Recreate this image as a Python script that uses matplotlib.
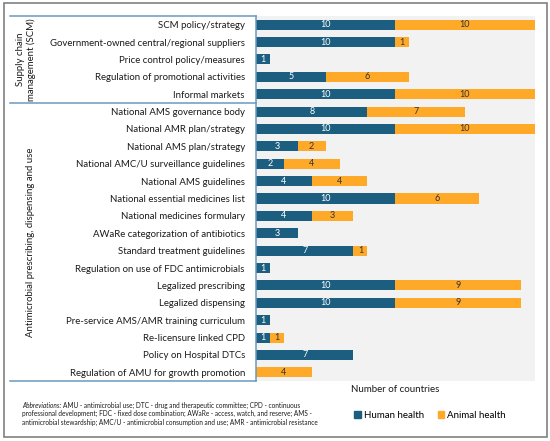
import matplotlib
matplotlib.use("Agg")
import matplotlib.pyplot as plt
from matplotlib.patches import Rectangle
from matplotlib.lines import Line2D
import numpy as np

categories = [
    "SCM policy/strategy",
    "Government-owned central/regional suppliers",
    "Price control policy/measures",
    "Regulation of promotional activities",
    "Informal markets",
    "National AMS governance body",
    "National AMR plan/strategy",
    "National AMS plan/strategy",
    "National AMC/U surveillance guidelines",
    "National AMS guidelines",
    "National essential medicines list",
    "National medicines formulary",
    "AWaRe categorization of antibiotics",
    "Standard treatment guidelines",
    "Regulation on use of FDC antimicrobials",
    "Legalized prescribing",
    "Legalized dispensing",
    "Pre-service AMS/AMR training curriculum",
    "Re-licensure linked CPD",
    "Policy on Hospital DTCs",
    "Regulation of AMU for growth promotion",
]
human = [10, 10, 1, 5, 10, 8, 10, 3, 2, 4, 10, 4, 3, 7, 1, 10, 10, 1, 1, 7, 0]
animal = [10, 1, 0, 6, 10, 7, 10, 2, 4, 4, 6, 3, 0, 1, 0, 9, 9, 0, 1, 0, 4]
series_names = ["Human health", "Animal health"]
groups = ["Supply chain\nmanagement (SCM)", "Antimicrobial prescribing, dispensing and use"]
group_sizes = [5, 16]
abbrev_head = "Abbreviations:"
abbrev_lines = [
    "AMU - antimicrobial use; DTC - drug and therapeutic committee; CPD - continuous",
    "professional development; FDC - fixed dose combination; AWaRe - access, watch, and reserve; AMS -",
    "antimicrobial stewardship; AMC/U - antimicrobial consumption and use; AMR - antimicrobial resistance",
]

BLUE = "#1b5e80"
ORANGE = "#ffa928"
BOX = "#6a98bf"
TXT = "#1a1a1a"

plt.rcParams["font.family"] = ["Lato", "DejaVu Sans"]

W, H = 550, 441
fig = plt.figure(figsize=(5.5, 4.41), dpi=100)

def fx(px):
    return px / W

def fy(py):
    return 1 - py / H

ax = fig.add_axes([fx(256), fy(381), fx(534.5) - fx(256), fy(16) - fy(381)])
ax.set_facecolor("#f2f2f2")

y = np.arange(len(categories))
h = np.array(human)
a = np.array(animal)
ax.barh(y, h, height=0.58, color=BLUE, zorder=2)
ax.barh(y, a, left=h, height=0.58, color=ORANGE, zorder=2)
for yi, hv, av in zip(y, h, a):
    if hv > 0:
        ax.text(hv / 2, yi, str(hv), ha="center", va="center", color="white", fontsize=6.5, zorder=3)
    if av > 0:
        ax.text(hv + av / 2, yi, str(av), ha="center", va="center", color="#333333", fontsize=6.5, zorder=3)

ax.set_xlim(0, 20)
ax.set_ylim(len(categories) - 0.5, -0.5)
ax.set_yticks(y)
ax.set_yticklabels(categories, fontsize=6.9, color=TXT)
ax.tick_params(axis="y", length=0, pad=8)
ax.set_xticks([])
for s in ax.spines.values():
    s.set_visible(False)

# group box lines
lw = 1.1
fig.add_artist(Line2D([fx(256), fx(256)], [fy(16), fy(381)], color=BOX, lw=lw))
edges = [16]
acc = 0
for gsz in group_sizes:
    acc += gsz
    edges.append(16 + acc * (365 / len(categories)))
for e in edges:
    fig.add_artist(Line2D([fx(10), fx(256)], [fy(e), fy(e)], color=BOX, lw=lw))

# group labels
fig.text(fx(26), fy((edges[0] + edges[1]) / 2), groups[0], rotation=90, ha="center", va="center",
         fontsize=6.9, linespacing=1.1, color=TXT)
fig.text(fx(31), fy((edges[1] + edges[2]) / 2), groups[1], rotation=90, ha="center", va="center",
         fontsize=6.9, color=TXT)

# x label
fig.text(fx(395), fy(390), "Number of countries", ha="center", va="center", fontsize=7, color=TXT)

# legend
fig.legend(handles=[Rectangle((0, 0), 1, 1, color=BLUE), Rectangle((0, 0), 1, 1, color=ORANGE)],
           labels=series_names, loc="center", bbox_to_anchor=(fx(430), fy(415)), ncol=2,
           frameon=False, fontsize=7, handlelength=0.7, handleheight=0.7, handletextpad=0.3,
           columnspacing=1.4)

# abbreviations
fs_ab = 4.7
line_y = [405, 413.5, 422]
head = fig.text(fx(22), fy(line_y[0]), abbrev_head, fontsize=fs_ab, style="italic",
                ha="left", va="center", color=TXT)
renderer = fig.canvas.get_renderer()
bb = head.get_window_extent(renderer=renderer)
fig.text(fx(bb.x1 + 2), fy(line_y[0]), abbrev_lines[0], fontsize=fs_ab, ha="left", va="center", color=TXT)
for ly, txt in zip(line_y[1:], abbrev_lines[1:]):
    fig.text(fx(22), fy(ly), txt, fontsize=fs_ab, ha="left", va="center", color=TXT)

# outer frame
fig.add_artist(Rectangle((fx(4), fy(437)), fx(547) - fx(4), fy(3) - fy(437), fill=False,
                         edgecolor="#808080", lw=1.2))

fig.savefig("out.png", dpi=100)
